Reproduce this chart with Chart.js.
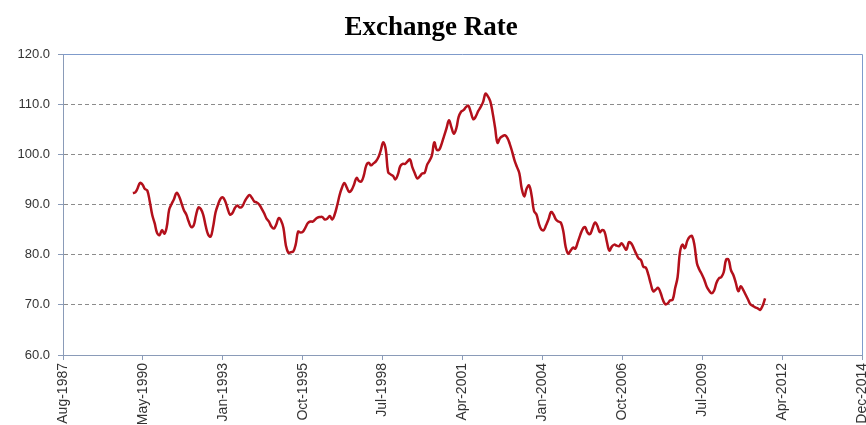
<!DOCTYPE html>
<html>
<head>
<meta charset="utf-8">
<title>Exchange Rate</title>
<script src="https://cdn.jsdelivr.net/npm/chart.js@4"></script>
<style>
  html, body { margin: 0; padding: 0; background: #fff; }
  #wrap { width: 866px; height: 425px; }
</style>
</head>
<body>
<div id="wrap"><canvas id="chartRate" width="866" height="425"></canvas></div>
<script>
// monthly series, first value = Jan 1990
const startYear = 1990;
const startMonth = 0;
const rate = [
  92.3, 92.4, 93.2, 94.3, 94.0, 93.1, 92.8, 90.6, 87.9, 86.3, 84.3, 83.9, // 1990
  84.9, 84.2, 85.5, 89.0, 90.1, 91.1, 92.3, 91.7, 90.3, 88.9, 88.0, 86.6, // 1991
  85.5, 85.8, 87.8, 89.4, 89.1, 87.9, 85.7, 84.0, 83.6, 85.5, 88.4, 89.9, // 1992
  91.1, 91.4, 90.7, 89.2, 88.0, 88.3, 89.3, 89.8, 89.4, 89.6, 90.6, 91.4, // 1993
  91.9, 91.3, 90.6, 90.4, 90.0, 89.2, 88.3, 87.2, 86.6, 85.6, 85.2, 86.0, // 1994
  87.3, 86.7, 85.3, 81.8, 80.4, 80.5, 80.6, 82.0, 84.6, 84.4, 84.6, 85.4, // 1995
  86.3, 86.6, 86.6, 87.0, 87.4, 87.5, 87.5, 87.0, 87.2, 87.7, 87.0, 88.0, // 1996
  89.8, 91.9, 93.3, 94.3, 93.4, 92.5, 92.9, 94.0, 95.3, 94.7, 94.6, 95.8, // 1997
  97.8, 98.3, 97.8, 98.2, 98.6, 99.4, 100.8, 102.4, 101.0, 96.5, 96.0, 95.7, // 1998
  95.0, 96.0, 97.6, 98.1, 98.1, 98.6, 99.0, 97.4, 96.2, 95.2, 95.6, 96.2, // 1999
  96.3, 97.9, 98.7, 99.8, 102.4, 100.9, 100.9, 102.1, 103.7, 105.2, 106.8, 105.4, // 2000
  104.1, 105.2, 107.4, 108.5, 108.8, 109.4, 109.7, 108.4, 107.0, 107.5, 108.6, 109.4, // 2001
  110.4, 112.1, 111.6, 110.6, 108.3, 105.3, 102.3, 103.2, 103.6, 103.8, 103.3, 102.1, // 2002
  100.5, 98.7, 97.5, 96.2, 93.1, 91.6, 93.2, 93.8, 91.8, 88.7, 88.0, 86.2, // 2003
  85.0, 84.9, 85.9, 87.1, 88.5, 88.0, 87.0, 86.6, 86.4, 84.7, 81.5, 80.2, // 2004
  80.8, 81.4, 81.2, 82.5, 83.9, 85.1, 85.5, 84.4, 84.1, 85.2, 86.4, 85.8, // 2005
  84.5, 84.9, 84.6, 82.5, 80.8, 81.6, 82.0, 81.8, 81.7, 82.3, 81.6, 81.0, // 2006
  82.5, 82.2, 81.3, 80.2, 79.3, 78.9, 77.6, 77.4, 76.0, 74.2, 72.7, 73.0, // 2007
  73.4, 72.4, 71.0, 70.1, 70.3, 70.9, 71.0, 73.3, 75.5, 80.5, 82.0, 81.3, // 2008
  82.8, 83.6, 83.7, 81.8, 78.3, 77.0, 76.1, 75.0, 73.6, 72.8, 72.3, 72.8, // 2009
  74.4, 75.3, 75.5, 76.5, 79.0, 79.0, 76.9, 75.9, 74.3, 72.7, 73.7, 73.0, // 2010
  72.0, 71.0, 70.1, 69.8, 69.5, 69.3, 69.0, 69.8, 71.3                    // 2011
];

const monthNames = ['Jan', 'Feb', 'Mar', 'Apr', 'May', 'Jun', 'Jul', 'Aug', 'Sep', 'Oct', 'Nov', 'Dec'];

// x axis runs on spreadsheet day serials (day 0 = 30 Dec 1899)
const axisMin = 32000;
const axisMax = 42000;
const axisStep = 1000;
const yMin = 60;
const yMax = 120;
const yStep = 10;

const DAY = 86400000;
const EPOCH = Date.UTC(1899, 11, 30);
const serialOf = (y, m) => (Date.UTC(y, m, 1) - EPOCH) / DAY;
const serialLabel = v => {
    const d = new Date(EPOCH + v * DAY);
    return monthNames[d.getUTCMonth()] + '-' + d.getUTCFullYear();
};

const points = rate.map((v, i) => ({ x: serialOf(startYear, startMonth + i), y: v }));

const axisColor = '#8a9bb8';
const sansFamily = "'Liberation Sans', Arial, sans-serif";

// white background + top/right frame of the plot area
const plotFrame = {
    id: 'plotFrame',
    beforeDraw(chart) {
        const { ctx, width, height } = chart;
        ctx.save();
        ctx.fillStyle = '#fff';
        ctx.fillRect(0, 0, width, height);
        ctx.restore();
    },
    afterDraw(chart) {
        const { ctx, chartArea: a } = chart;
        ctx.save();
        ctx.strokeStyle = '#7f9bcb';
        ctx.lineWidth = 1;
        ctx.beginPath();
        ctx.moveTo(a.left, a.top + 0.5);
        ctx.lineTo(a.right + 0.5, a.top + 0.5);
        ctx.lineTo(a.right + 0.5, a.bottom);
        ctx.stroke();
        ctx.restore();
    }
};

new Chart(document.getElementById('chartRate'), {
    type: 'line',
    data: {
        datasets: [{
            label: 'Exchange Rate',
            data: points,
            borderColor: '#b3101b',
            borderWidth: 2.5,
            tension: 0.4,
            pointRadius: 0,
            fill: false
        }]
    },
    options: {
        responsive: false,
        animation: false,
        layout: { padding: { left: 0, right: 4, top: 0, bottom: 0 } },
        plugins: {
            legend: { display: false },
            tooltip: { enabled: false },
            title: {
                display: true,
                text: 'Exchange Rate',
                color: '#000',
                font: { family: "'Liberation Serif', 'Times New Roman', serif", size: 27, weight: 'bold' },
                padding: { top: 12, bottom: 9.6 }
            }
        },
        scales: {
            x: {
                type: 'linear',
                min: axisMin,
                max: axisMax,
                afterFit: s => { s.height = 70; s.paddingLeft = 0; s.paddingRight = 0; },
                grid: { drawOnChartArea: false, drawTicks: true, tickLength: 5, tickColor: axisColor },
                border: { color: axisColor },
                ticks: {
                    stepSize: axisStep,
                    autoSkip: false,
                    maxRotation: 90,
                    minRotation: 90,
                    padding: 3,
                    color: '#333',
                    font: { family: sansFamily, size: 14 },
                    callback: v => serialLabel(v)
                }
            },
            y: {
                min: yMin,
                max: yMax,
                afterFit: s => { s.width = 63; s.paddingTop = 0; s.paddingBottom = 0; },
                grid: {
                    color: c => (c.tick && (c.tick.value === yMin || c.tick.value === yMax)) ? 'rgba(0,0,0,0)' : '#8c8c8c',
                    tickLength: 5,
                    tickColor: axisColor
                },
                border: { color: axisColor, dash: [4, 3] },
                ticks: {
                    stepSize: yStep,
                    padding: 8,
                    color: '#333',
                    font: { family: sansFamily, size: 13 },
                    callback: v => Number(v).toFixed(1)
                }
            }
        }
    },
    plugins: [plotFrame]
});
</script>
</body>
</html>
